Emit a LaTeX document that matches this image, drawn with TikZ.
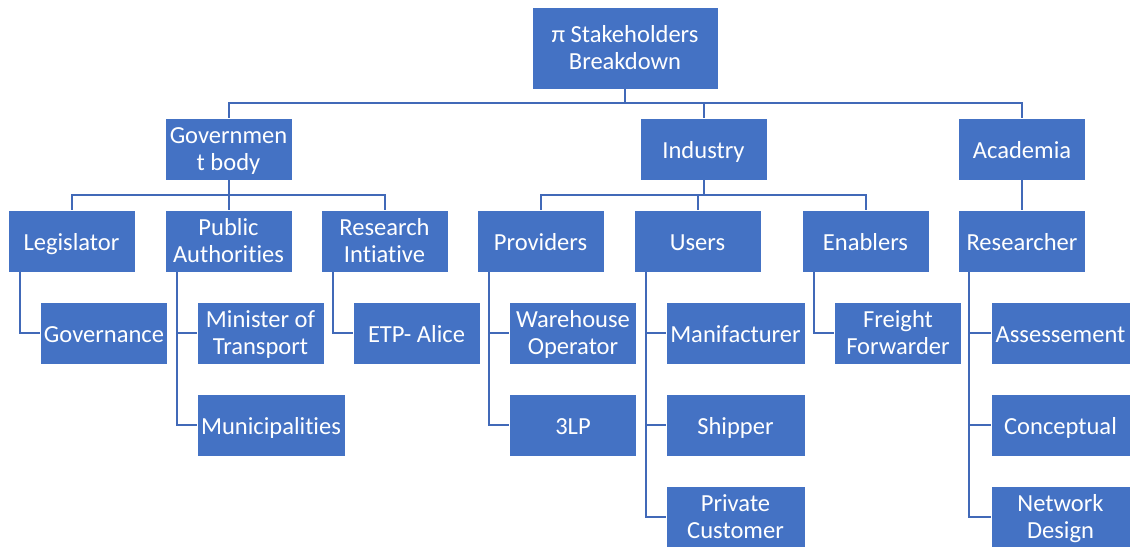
\documentclass[tikz,border=0pt]{standalone}
\usepackage{fontspec}
\setmainfont{Carlito}[Ligatures=NoCommon]
\definecolor{boxblue}{HTML}{4472C4}
\definecolor{lineblue}{HTML}{4169B8}
\newcommand\toprule{\rule{0pt}{17.5pt}}
\newcommand\botrule{\rule[-3pt]{0pt}{3pt}}
\newcommand\mtop{\rule{0pt}{15pt}}
\newcommand\mbot{\rule[-3.75pt]{0pt}{3.75pt}}
\begin{document}
\begin{tikzpicture}[x=0.75pt,y=-0.75pt,
  box/.style={rectangle, fill=boxblue, draw=white, line width=0.6pt, text=white,
    minimum width=95.25pt, minimum height=46.5pt, inner sep=0pt, align=center,
    font=\fontsize{18.4pt}{20.25pt}\selectfont,
    execute at begin node=\toprule, execute at end node=\botrule},
  wide/.style={box, minimum width=104.25pt},
  conn/.style={draw=lineblue, line width=1.5pt}]
\useasboundingbox (0,0) rectangle (1130,546);
% level 0
\node[box, minimum width=139.5pt, minimum height=61.5pt] (root) at (625,48) {\mtop π Stakeholders\\Breakdown\mbot};
% level 1
\node[box] (gov) at (228.5,149) {\mtop Governmen\\t body\mbot};
\node[box] (ind) at (703.5,149) {Industry};
\node[box] (aca) at (1022,149) {Academia};
% level 2
\node[box] (leg) at (71.5,241) {Legislator};
\node[box] (pub) at (228.5,241) {\mtop Public\\Authorities\mbot};
\node[box] (rin) at (384.5,241) {\mtop Research\\Intiative\mbot};
\node[box] (prov) at (540.5,241) {Providers};
\node[box] (usr) at (697.5,241) {Users};
\node[box] (ena) at (865.5,241) {Enablers};
\node[box] (res) at (1022,241) {Researcher};
% level 3
\node[box] (govn) at (104,333) {Governance};
\node[box] (mini) at (260.5,333) {\mtop Minister of\\Transport\mbot};
\node[box, minimum width=111pt] (muni) at (271,425) {Municipalities};
\node[box] (etp) at (416.5,333) {ETP- Alice};
\node[box] (ware) at (573,333) {\mtop Warehouse\\Operator\mbot};
\node[box] (tlp) at (573,425) {3LP};
\node[wide] (manu) at (735.5,333) {Manifacturer};
\node[wide] (ship) at (735.5,425) {Shipper};
\node[wide] (priv) at (735.5,517) {\mtop Private\\Customer\mbot};
\node[box] (frei) at (898,333) {\mtop Freight\\Forwarder\mbot};
\node[wide] (asse) at (1060.5,333) {Assessement};
\node[wide] (conc) at (1060.5,425) {Conceptual};
\node[wide] (netw) at (1060.5,517) {\mtop Network\\Design\mbot};
% connectors level 0-1
\draw[conn] (root.south) -- ++(0,14) -| (gov.north);
\draw[conn] (root.south) -- ++(0,14) -| (ind.north);
\draw[conn] (root.south) -- ++(0,14) -| (aca.north);
% level 1-2
\draw[conn] (gov.south) -- ++(0,15) -| (leg.north);
\draw[conn] (gov.south) -- ++(0,15) -| (pub.north);
\draw[conn] (gov.south) -- ++(0,15) -| (rin.north);
\draw[conn] (ind.south) -- ++(0,15) -| (prov.north);
\draw[conn] (ind.south) -- ++(0,15) -| (usr.north);
\draw[conn] (ind.south) -- ++(0,15) -| (ena.north);
\draw[conn] (aca.south) -- (res.north);
% level 2-3
\draw[conn] ([xshift=9pt]leg.south west) |- (govn.west);
\draw[conn] ([xshift=9pt]pub.south west) |- (mini.west);
\draw[conn] ([xshift=9pt]pub.south west) |- (muni.west);
\draw[conn] ([xshift=9pt]rin.south west) |- (etp.west);
\draw[conn] ([xshift=9pt]prov.south west) |- (ware.west);
\draw[conn] ([xshift=9pt]prov.south west) |- (tlp.west);
\draw[conn] ([xshift=9pt]usr.south west) |- (manu.west);
\draw[conn] ([xshift=9pt]usr.south west) |- (ship.west);
\draw[conn] ([xshift=9pt]usr.south west) |- (priv.west);
\draw[conn] ([xshift=9pt]ena.south west) |- (frei.west);
\draw[conn] ([xshift=8.25pt]res.south west) |- (asse.west);
\draw[conn] ([xshift=8.25pt]res.south west) |- (conc.west);
\draw[conn] ([xshift=8.25pt]res.south west) |- (netw.west);
\end{tikzpicture}
\end{document}
